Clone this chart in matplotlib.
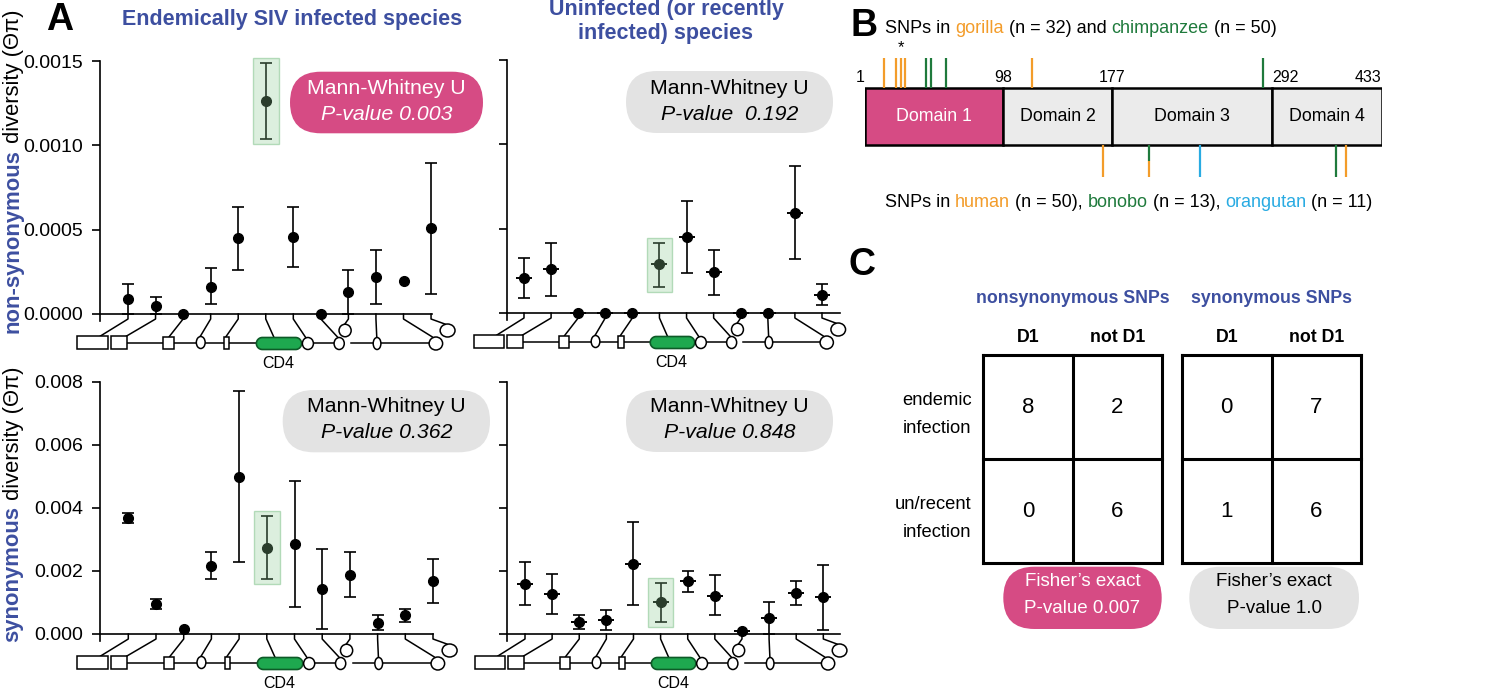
import numpy as np
import matplotlib
matplotlib.use('Agg')
import matplotlib.pyplot as plt
from matplotlib.patches import FancyBboxPatch, Rectangle, Ellipse, Polygon
from matplotlib.ticker import FormatStrFormatter

plt.rcParams['font.family'] = ['Liberation Sans', 'DejaVu Sans']

# ---------------- data ----------------
nan = np.nan
# panel A: diversity per species (12 species, CD4 is index 5)
nonsyn_endemic = [0.000089, 0.00005, 0.0, 0.000162, 0.00045, 0.001265, 0.000459, 0.0, 0.000128, 0.000217, 0.000198, 0.000508]
nonsyn_endemic_hi = [0.000178, 0.0001, nan, 0.00027, 0.000636, 0.00149, 0.000636, nan, 0.00026, 0.00038, nan, 0.000897]
nonsyn_endemic_lo = [0.0, 0.0, nan, 0.00006, 0.00026, 0.00104, 0.00028, nan, 0.0, 0.00006, nan, 0.000119]

nonsyn_other = [0.000209, 0.000259, 0.0, 0.0, 0.0, 0.000289, 0.000451, 0.000241, 0.0, 0.0, 0.000595, 0.000109]
nonsyn_other_hi = [0.000328, 0.000413, nan, nan, nan, 0.000417, 0.000664, 0.000374, nan, nan, 0.000872, 0.00017]
nonsyn_other_lo = [0.000087, 0.000103, nan, nan, nan, 0.000156, 0.000235, 0.000109, nan, nan, 0.000318, 0.000047]

syn_endemic = [0.00367, 0.00095, 0.00015, 0.00217, 0.00499, 0.00273, 0.00285, 0.00142, 0.00187, 0.00036, 0.00059, 0.00168]
syn_endemic_hi = [0.00383, 0.00112, nan, 0.00261, 0.0077, 0.00374, 0.00484, 0.00271, 0.00261, 0.0006, 0.0008, 0.00238]
syn_endemic_lo = [0.00353, 0.0008, nan, 0.00173, 0.00229, 0.00173, 0.00085, 0.00016, 0.00116, 0.00013, 0.00038, 0.00097]

syn_other = [0.00159, 0.00128, 0.00037, 0.00043, 0.00223, 0.0010, 0.00168, 0.00122, 0.00011, 0.00051, 0.0013, 0.00117]
syn_other_hi = [0.00227, 0.00189, 0.0006, 0.00075, 0.00356, 0.00162, 0.0020, 0.00187, nan, 0.00102, 0.00168, 0.00219]
syn_other_lo = [0.00093, 0.00064, 0.00016, 0.00014, 0.00091, 0.00039, 0.00134, 0.0006, nan, 0.0, 0.00091, 0.00014]

cd4_index = 5
pvals_mw = ['0.003', ' 0.192', '0.362', '0.848']

# panel B: CD4 domains and SNP positions (residues)
domain_edges = [1, 98, 177, 292, 433]
domain_names = ['Domain 1', 'Domain 2', 'Domain 3', 'Domain 4']
gorilla_snps = [14, 23, 26, 29, 119]
chimp_snps = [44, 47, 58, 285]
starred_snp = 26
human_snps = [171, 204, 387]
bonobo_snps = [204, 374]
orangutan_snps = [240]

# panel C: 2x2 tables
col_labels = ['D1', 'not D1']
row_labels = ['endemic\ninfection', 'un/recent\ninfection']
nonsyn_counts = [[8, 2], [0, 6]]
syn_counts = [[0, 7], [1, 6]]
fisher_p = ['0.007', '1.0']

BLUE = '#3D4FA0'
PINK = '#D64B84'
GREY = '#E3E3E3'
ORANGE = '#F39C2A'
GREEN = '#1F7A3C'
SKY = '#29ABE2'

W, H = 1500, 693
fig = plt.figure(figsize=(15, 6.93), dpi=100)


def box(l, t, r, b):
    return [l / W, 1 - b / H, (r - l) / W, (b - t) / H]


ov = fig.add_axes([0, 0, 1, 1], zorder=10)
ov.set_xlim(0, W)
ov.set_ylim(H, 0)
ov.axis('off')


def seq_text(x, y, parts, rotation=0, **kw):
    r = fig.canvas.get_renderer()
    off = 0
    for s, c, wt in parts:
        t1 = ov.text(0, 0, s + '|', fontweight=wt, **kw)
        t2 = ov.text(0, 0, '|', fontweight=wt, **kw)
        w = t1.get_window_extent(r).width - t2.get_window_extent(r).width
        t1.remove()
        t2.remove()
        if rotation == 0:
            ov.text(x + off, y, s, color=c, fontweight=wt, rotation_mode='anchor',
                    ha='left', va='baseline', **kw)
        else:
            ov.text(x, y - off, s, color=c, fontweight=wt, rotation=90,
                    rotation_mode='anchor', ha='left', va='baseline', **kw)
        off += w


def pill(x0, y0, x1, y1, color):
    h = y1 - y0
    ov.add_patch(FancyBboxPatch((x0, y0), x1 - x0, h,
                                boxstyle=f'round,pad=0,rounding_size={h / 2}',
                                fc=color, ec='none'))


# ---------------- panel A ----------------
# schematic below each axis (layout only)
SHAPES = [('rect', -1.85, -0.72, 28.5, 13), ('rect', -0.62, -0.03, 28.5, 13),
          ('rect', 1.28, 1.66, 28.5, 12), ('oval', 2.48, 2.8, 28.5, 12),
          ('rect', 3.48, 3.68, 28.5, 12), ('cd4', 4.66, 6.3, 29.5, 12),
          ('oval', 6.33, 6.73, 29.5, 12), ('oval', 7.48, 7.85, 29.5, 12),
          ('oval', 8.9, 9.18, 29.5, 12), ('oval', 10.93, 11.42, 29.5, 13),
          ('oval', 7.66, 8.1, 16.5, 12.5), ('oval', 11.33, 11.87, 16.5, 13)]
LINKS = [(-0.03, 7.5), (8.1, 10.95)]
CONNECT = [(-1.0, 22), (-0.05, 22), (1.5, 22.5), (2.62, 22.5), (3.56, 22.5), (5.3, 23.5),
           (6.45, 23.5), (7.62, 23.5), (7.86, 10.5), (9.03, 23.5), (11.05, 23), (11.5, 10)]


def schematic(sch, step):
    for i, (tx, ty) in enumerate(CONNECT):
        sch.plot([i, i, tx], [0, 5, ty], color='black', lw=1.1, clip_on=False, zorder=1)
    for a, b in LINKS:
        sch.plot([a, b], [28.8, 28.8], color='black', lw=1.1, clip_on=False, zorder=1)
    for kind, x0, x1, yc, h in SHAPES:
        if kind == 'rect':
            p = Rectangle((x0, yc - h / 2), x1 - x0, h, fc='white', ec='black', lw=1.1)
        elif kind == 'oval':
            p = Ellipse(((x0 + x1) / 2, yc), x1 - x0, h, fc='white', ec='black', lw=1.1)
        else:
            ry = h / 2
            rx = ry / step
            t = np.linspace(-np.pi / 2, np.pi / 2, 25)
            xr = x1 - rx + rx * np.cos(t)
            yr = yc + ry * np.sin(t)
            xl = x0 + rx - rx * np.cos(t)
            yl = yc - ry * np.sin(t)
            p = Polygon(np.column_stack([np.r_[xr, xl], np.r_[yr, yl]]),
                        fc='#1EA84F', ec='#0D5A27', lw=1.2)
        p.set_clip_on(False)
        p.set_zorder(3)
        sch.add_patch(p)
    sch.text(5.45, 49.5, 'CD4', fontsize=11.5, ha='center', va='center')


def diversity_panel(layout, vals, lo, hi, ymax, ticks, fmt, labels, mean_ticks, pval, pill_box, pill_color):
    spine, first, step, top, zero, right, line_end = layout
    vals, lo, hi = np.array(vals), np.array(lo), np.array(hi)
    xs = np.arange(len(vals))
    per_px = ymax / (zero - top)
    ax = fig.add_axes(box(spine, top, right, zero + 7), facecolor='none', zorder=3)
    ax.set_xlim((spine - first) / step, (right - first) / step)
    ax.set_ylim(-7 * per_px, ymax)
    for s in ['top', 'right', 'bottom']:
        ax.spines[s].set_visible(False)
    ax.spines['left'].set_linewidth(1.2)
    ax.set_xticks([])
    ax.set_yticks(ticks)
    ax.yaxis.set_major_formatter(FormatStrFormatter(fmt))
    ax.tick_params(axis='y', length=6, width=1.2, pad=6, labelsize=14, labelleft=labels)
    ax.plot([ax.get_xlim()[0], line_end], [0, 0], color='black', lw=1.2, clip_on=False)
    has = ~np.isnan(hi)
    ax.errorbar(xs[has], vals[has], yerr=[vals[has] - lo[has], hi[has] - vals[has]], fmt='none',
                ecolor='black', elinewidth=1.2, capsize=4, capthick=1.2, clip_on=False, zorder=3)
    ax.plot(xs, vals, 'o', color='black', ms=7, clip_on=False, zorder=4)
    if mean_ticks:
        ax.plot(xs, vals, '_', color='black', ms=12, mew=1.4, clip_on=False, zorder=4)
    pad = 5 * per_px
    ax.add_patch(Rectangle((cd4_index - 0.47, lo[cd4_index] - pad), 0.94,
                           hi[cd4_index] - lo[cd4_index] + 2 * pad,
                           fc=(0.55, 0.8, 0.58, 0.3), ec=(0.55, 0.78, 0.58, 0.6),
                           lw=1, zorder=6, clip_on=False))
    sch = fig.add_axes(box(spine, zero, right, zero + 60), facecolor='none', zorder=2)
    sch.set_xlim(ax.get_xlim())
    sch.set_ylim(60, 0)
    sch.axis('off')
    schematic(sch, step)
    x0, y0, x1, y1 = pill_box
    pill(x0, y0, x1, y1, pill_color)
    tc = 'white' if pill_color == PINK else 'black'
    cx = (x0 + x1) / 2
    ov.text(cx, y0 + 17, 'Mann-Whitney U', ha='center', va='center', fontsize=15.3, color=tc)
    ov.text(cx, y0 + 43, 'P-value ' + pval, ha='center', va='center', fontsize=15.3,
            color=tc, style='italic')
    return ax


diversity_panel((100, 128, 27.55, 61, 314, 445, 11.04), nonsyn_endemic, nonsyn_endemic_lo,
                nonsyn_endemic_hi, 0.0015, [0, 0.0005, 0.001, 0.0015], '%.4f', True, False,
                pvals_mw[0], (290, 71.7, 483, 133.3), PINK)
diversity_panel((506.7, 524, 27.09, 60, 313, 848, 11.66), nonsyn_other, nonsyn_other_lo,
                nonsyn_other_hi, 0.0015, [0, 0.0005, 0.001, 0.0015], '%.4f', False, True,
                pvals_mw[1], (626, 71, 833, 133), GREY)
diversity_panel((100, 128.3, 27.7, 381.7, 634, 445, 11.0), syn_endemic, syn_endemic_lo,
                syn_endemic_hi, 0.008, [0, 0.002, 0.004, 0.006, 0.008], '%.3f', True, False,
                pvals_mw[2], (282.7, 390, 490, 452.3), GREY)
diversity_panel((506.7, 525, 27.12, 381.7, 634, 848, 11.6), syn_other, syn_other_lo,
                syn_other_hi, 0.008, [0, 0.002, 0.004, 0.006, 0.008], '%.3f', False, True,
                pvals_mw[3], (626, 390, 833, 452), GREY)

ov.text(59.7, 19.5, 'A', fontsize=27, fontweight='bold', ha='center', va='center')
ov.text(292.5, 20, 'Endemically SIV infected species', fontsize=15.5, fontweight='bold',
        color=BLUE, ha='center', va='center')
ov.text(666, 21.5, 'Uninfected (or recently\ninfected) species', fontsize=15.5,
        fontweight='bold', color=BLUE, ha='center', va='center', linespacing=1.15)
seq_text(18.5, 333, [('non-synonymous', BLUE, 'bold'), (' diversity (Θπ)', 'black', 'normal')],
         rotation=90, fontsize=15.8)
seq_text(18.5, 641.7, [('synonymous', BLUE, 'bold'), (' diversity (Θπ)', 'black', 'normal')],
         rotation=90, fontsize=15.8)

# ---------------- panel B ----------------
anchors = np.array([0, 138.3, 246.7, 407.3, 516.7]) / 516.7


def fwd(x):
    return np.interp(x, domain_edges, anchors)


def inv(y):
    return np.interp(y, anchors, domain_edges)


axb = fig.add_axes(box(865, 54.3, 1381.7, 179), facecolor='none')
axb.set_xscale('function', functions=(fwd, inv))
axb.set_xlim(domain_edges[0], domain_edges[-1])
axb.set_ylim(-0.6, 1.6)
axb.axis('off')
starts = np.array(domain_edges[:-1])
widths = np.diff(domain_edges)
axb.barh(0.5, widths, left=starts, height=1, color=[PINK, '#EBEBEB', '#EBEBEB', '#EBEBEB'],
         edgecolor='black', linewidth=1.8)
for a, b, name, k in zip(domain_edges[:-1], domain_edges[1:], domain_names, range(4)):
    mid = inv((fwd(a) + fwd(b)) / 2)
    axb.text(mid, 0.5, name, fontsize=12.8, ha='center', va='center',
             color='white' if k == 0 else 'black')
for e, al in zip(domain_edges, ['right', 'center', 'center', 'left', 'right']):
    axb.text(e, 1.05, str(e), fontsize=11.5, ha=al, va='bottom')


def snp_ticks(groups, y0, length):
    positions = sorted(set(p for pos, c in groups for p in pos))
    for p in positions:
        present = [c for pos, c in groups if p in pos]
        n = len(present)
        for k, c in enumerate(present):
            axb.plot([p, p], [y0 + length * k / n, y0 + length * (k + 1) / n], color=c,
                     lw=1.6, solid_capstyle='butt', clip_on=False)


snp_ticks([(gorilla_snps, ORANGE), (chimp_snps, GREEN)], 1.0, 0.53)
snp_ticks([(orangutan_snps, SKY), (bonobo_snps, GREEN), (human_snps, ORANGE)], 0.0, -0.56)
axb.text(starred_snp, 1.72, '*', fontsize=12, ha='center', va='center')

ov.text(864, 25.5, 'B', fontsize=27, fontweight='bold', ha='center', va='center')
seq_text(885, 33.3, [('SNPs in ', 'black', 'normal'), ('gorilla', ORANGE, 'normal'),
                     (' (n = 32) and ', 'black', 'normal'), ('chimpanzee', GREEN, 'normal'),
                     (' (n = 50)', 'black', 'normal')], fontsize=13)
seq_text(885, 206.7, [('SNPs in ', 'black', 'normal'), ('human', ORANGE, 'normal'),
                      (' (n = 50), ', 'black', 'normal'), ('bonobo', GREEN, 'normal'),
                      (' (n = 13), ', 'black', 'normal'), ('orangutan', SKY, 'normal'),
                      (' (n = 11)', 'black', 'normal')], fontsize=13)


# ---------------- panel C ----------------
def table_panel(left, counts, header, show_rows):
    axc = fig.add_axes(box(left, 355.3, left + 179, 563.3), facecolor='none')
    axc.set_xlim(0, 2)
    axc.set_ylim(2, 0)
    axc.axis('off')
    for k in range(3):
        axc.plot([k, k], [0, 2], color='black', lw=2.2, clip_on=False, solid_capstyle='projecting')
        axc.plot([0, 2], [k, k], color='black', lw=2.2, clip_on=False, solid_capstyle='projecting')
    for i in range(2):
        for j in range(2):
            axc.text(j + 0.5, i + 0.5, str(counts[i][j]), fontsize=16,
                     ha='center', va='center')
    for j, lab in enumerate(col_labels):
        axc.text(j + 0.5, -0.17, lab, fontsize=12.8, fontweight='bold',
                 ha='center', va='center')
    axc.text(1.0, -0.55, header, fontsize=12.8, fontweight='bold',
             color=BLUE, ha='center', va='center')
    if show_rows:
        for i, lab in enumerate(row_labels):
            axc.text(-0.13, i + 0.57, lab, fontsize=13.2, ha='right',
                     va='center', linespacing=1.8)
    return axc


table_panel(983.3, nonsyn_counts, 'nonsynonymous SNPs', True)
table_panel(1182, syn_counts, 'synonymous SNPs', False)
for (x0, x1), p, c in zip([(1003.3, 1161.7), (1189.3, 1359)], fisher_p, [PINK, GREY]):
    pill(x0, 566.7, x1, 629, c)
    tc = 'white' if c == PINK else 'black'
    ov.text((x0 + x1) / 2, 582, 'Fisher’s exact', fontsize=13.5, color=tc,
            ha='center', va='center')
    ov.text((x0 + x1) / 2, 608.5, 'P-value ' + p, fontsize=13.5, color=tc,
            ha='center', va='center')
ov.text(862, 265, 'C', fontsize=27, fontweight='bold', ha='center', va='center')

fig.savefig('out.png', dpi=100)
